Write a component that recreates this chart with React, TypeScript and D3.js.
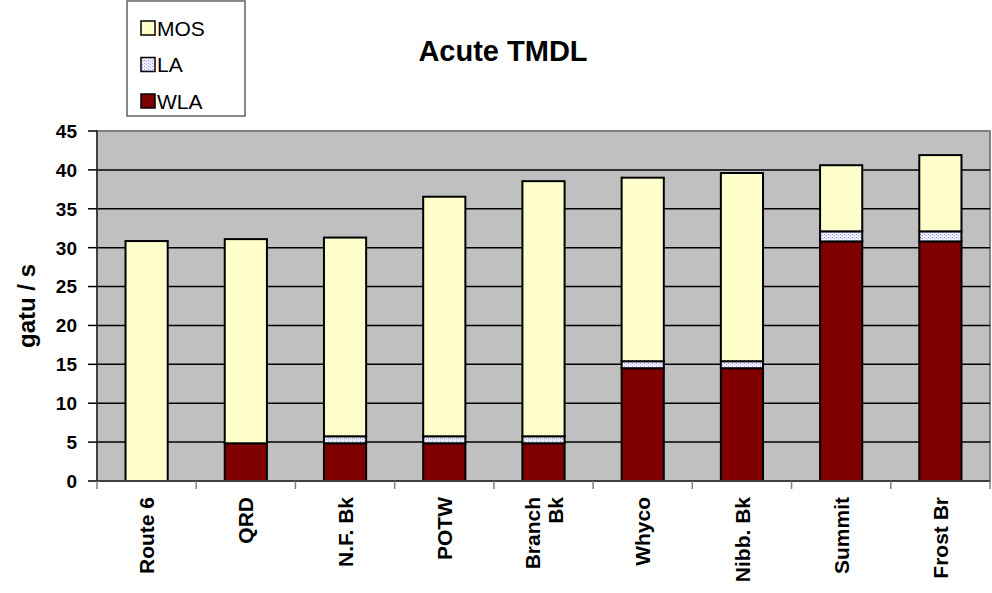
import React from 'react';
import * as d3 from 'd3';

const categories = ['Route 6', 'QRD', 'N.F. Bk', 'POTW', 'Branch Bk', 'Whyco', 'Nibb. Bk', 'Summit', 'Frost Br'];
const wla = [0, 4.85, 4.85, 4.85, 4.85, 14.5, 14.5, 30.8, 30.8];
const la = [0, 0, 0.9, 0.9, 0.9, 0.9, 0.9, 1.3, 1.3];
const mos = [30.85, 26.25, 25.55, 30.8, 32.8, 23.6, 24.2, 8.5, 9.8];
const yTicks = [0, 5, 10, 15, 20, 25, 30, 35, 40, 45];
const seriesNames = ['MOS', 'LA', 'WLA'];

const W = 992, H = 593;
const left = 97, right = 990, top = 131, bottom = 481;
const font = 'Liberation Sans, Arial, sans-serif';

const fills: Record<string, string> = {
  WLA: '#800000',
  LA: 'url(#laPattern)',
  MOS: '#FFFFCC',
};

export default function App() {
  const x = d3.scaleBand<string>()
    .domain(categories)
    .range([left, right])
    .paddingInner(0.575)
    .paddingOuter(0.2875);
  const y = d3.scaleLinear().domain([0, 45]).range([bottom, top]);
  const step = x.step();

  const rows = categories.map((c, i) => ({ cat: c, WLA: wla[i], LA: la[i], MOS: mos[i] }));
  const stack = d3.stack<any>().keys(['WLA', 'LA', 'MOS']);
  const layers = stack(rows);

  return (
    <svg width={W} height={H} style={{ display: 'block', position: 'absolute', left: 0, top: 0 }} fontFamily={font}>
      <defs>
        <pattern id="laPattern" width="4" height="3" patternUnits="userSpaceOnUse">
          <rect width="4" height="3" fill="#EEEEFF" />
          <rect x="0" y="0" width="1" height="1" fill="#9999DD" />
          <rect x="2" y="1" width="1" height="1" fill="#AAAAEE" />
        </pattern>
      </defs>
      <rect x={0} y={0} width={W} height={H} fill="#fff" />

      {/* plot area */}
      <rect x={left} y={top} width={right - left} height={bottom - top} fill="#C0C0C0" stroke="#808080" strokeWidth={2} />
      {yTicks.filter(t => t > 0 && t < 45).map(t => (
        <line key={t} x1={left} x2={right} y1={y(t)} y2={y(t)} stroke="#000" strokeWidth={1.5} />
      ))}

      {/* bars */}
      {layers.map(layer => (
        <g key={layer.key}>
          {layer.map((d, i) => {
            const h = y(d[0]) - y(d[1]);
            if (h <= 0) return null;
            return (
              <rect key={i} x={x(categories[i])} y={y(d[1])} width={x.bandwidth()} height={h}
                fill={fills[layer.key]} stroke="#000" strokeWidth={2} />
            );
          })}
        </g>
      ))}

      {/* axes */}
      <line x1={left} x2={left} y1={top} y2={bottom} stroke="#404040" strokeWidth={2} />
      <line x1={left} x2={right} y1={bottom} y2={bottom} stroke="#404040" strokeWidth={2} />
      {yTicks.map(t => (
        <g key={t}>
          <line x1={left - 9} x2={left} y1={y(t)} y2={y(t)} stroke="#000" strokeWidth={1.5} />
          <text x={77} y={y(t)} dy="0.36em" textAnchor="end" fontSize={19} fontWeight="bold">{t}</text>
        </g>
      ))}
      {d3.range(categories.length + 1).map(i => (
        <line key={i} x1={left + i * step} x2={left + i * step} y1={bottom} y2={bottom + 8} stroke="#808080" strokeWidth={1.5} />
      ))}
      {categories.map(c => {
        const cx = x(c)! + x.bandwidth() / 2;
        const parts = c === 'Branch Bk' ? ['Branch', 'Bk'] : [c];
        return parts.map((p, j) => {
          const lx = cx + (j - (parts.length - 1) / 2) * 23;
          return (
            <text key={c + j} transform={`translate(${lx},497) rotate(-90)`} dy="0.36em" textAnchor="end"
              fontSize={21} fontWeight="bold">{p}</text>
          );
        });
      })}
      <text transform={`translate(26,${(top + bottom) / 2}) rotate(-90)`} dy="0.36em" textAnchor="middle"
        fontSize={24} fontWeight="bold">gatu / s</text>

      {/* title */}
      <text x={503} y={61} textAnchor="middle" fontSize={29} fontWeight="bold">Acute TMDL</text>

      {/* legend */}
      <rect x={127} y={1} width={118} height={115} fill="#fff" stroke="#606060" strokeWidth={1.5} />
      {seriesNames.map((s, i) => {
        const cy = 28 + i * 36.5;
        return (
          <g key={s}>
            <rect x={141} y={cy - 7} width={14} height={14} fill={fills[s]} stroke="#000" strokeWidth={1.5} />
            <text x={157} y={cy} dy="0.36em" fontSize={21}>{s}</text>
          </g>
        );
      })}
    </svg>
  );
}
